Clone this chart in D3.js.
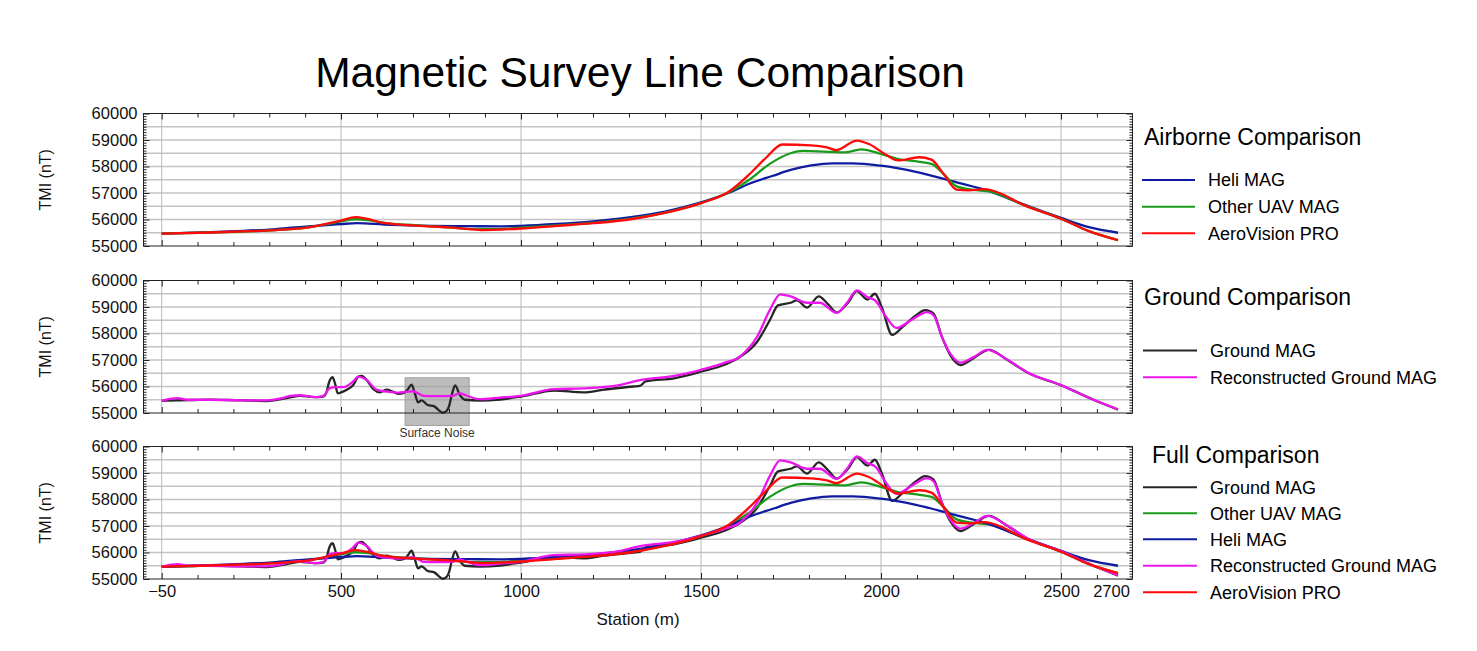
<!DOCTYPE html>
<html><head><meta charset="utf-8">
<script src="https://cdn.jsdelivr.net/npm/d3@7"></script>
<style>body{margin:0;background:#fff;} svg{display:block;}</style>
</head><body>
<svg id="chart" width="1477" height="651"></svg>
<script>
// ---------------- DATA ----------------
const heliStation = [-50,100,200,300,400,500,545,620,750,850,942,1000,1100,1200,1300,1400,1500,1576,1634,1700,1749,1806,1864,1922,2000,2094,2210,2302,2394,2500,2598,2700];
const heliTMI = [55470,55520,55570,55640,55740,55830,55860,55810,55760,55750,55740,55760,55830,55930,56080,56300,56650,57000,57350,57650,57870,58040,58120,58120,58030,57810,57400,57060,56580,56060,55710,55500];

const uavStation = [-50,100,200,300,400,460,500,540,575,620,710,800,870,942,1000,1100,1200,1300,1400,1500,1576,1634,1691,1749,1783,1864,1899,1945,2000,2048,2094,2140,2175,2210,2256,2302,2394,2500,2598,2700];
const uavTMI = [55470,55510,55540,55600,55700,55830,55930,56010,55980,55870,55780,55700,55640,55640,55690,55780,55870,56020,56260,56620,57020,57500,58100,58500,58590,58550,58530,58650,58480,58280,58200,58100,57700,57250,57120,57060,56560,56030,55560,55220];

const aeroStation = [-50,100,200,300,400,460,500,540,571,618,710,800,849,895,942,1000,1100,1200,1300,1400,1500,1576,1634,1680,1726,1806,1850,1876,1933,1968,2014,2048,2106,2140,2175,2210,2244,2290,2325,2394,2500,2598,2700];
const aeroTMI = [55470,55510,55550,55600,55700,55850,55960,56090,56030,55870,55770,55700,55650,55600,55620,55660,55760,55860,56000,56250,56620,57040,57700,58320,58830,58800,58720,58620,58980,58840,58440,58230,58350,58260,57700,57130,57100,57150,57020,56560,56030,55560,55220];

const groundStation = [-50,0,50,100,150,200,272,320,344,374,420,445,456,463,474,482,490,500,516,534,548,557,571,590,608,627,645,660,675,686,696,705,714,724,741,759,772,782,792,800,808,817,830,844,886,942,1000,1092,1173,1230,1311,1330,1346,1425,1500,1563,1610,1656,1691,1714,1749,1766,1795,1827,1852,1877,1910,1933,1962,1983,2002,2031,2060,2094,2123,2146,2169,2192,2221,2256,2300,2348,2406,2498,2614,2700];
const groundTMI = [55460,55480,55490,55500,55490,55480,55450,55530,55590,55650,55600,55620,55800,56150,56350,56100,55740,55780,55880,56060,56370,56400,56250,55900,55780,55880,55800,55720,55760,55900,56070,55750,55400,55480,55300,55250,55100,55010,55060,55250,55700,56040,55680,55500,55470,55510,55620,55850,55780,55880,56000,56020,56190,56310,56560,56810,57130,57690,58500,59060,59160,59250,58980,59400,59120,58790,59190,59600,59280,59500,59000,57950,58250,58650,58880,58750,57880,57190,56810,57060,57380,57030,56530,56060,55500,55130];

const reconStation = [-50,-20,0,27,100,200,272,320,344,374,420,445,466,487,507,534,548,571,600,627,660,678,700,715,728,770,811,830,850,886,941,1000,1092,1173,1265,1334,1425,1500,1563,1610,1656,1691,1720,1749,1795,1830,1877,1904,1933,1962,1985,2014,2043,2083,2129,2146,2169,2192,2221,2256,2296,2348,2406,2498,2614,2700];
const reconTMI = [55460,55540,55560,55500,55500,55480,55480,55560,55650,55670,55600,55640,55940,55975,55975,56190,56375,56250,55870,55810,55770,55790,55820,55740,55650,55640,55650,55740,55650,55520,55580,55650,55900,55930,56030,56250,56400,56630,56880,57150,57880,58880,59480,59400,59160,59160,58780,59130,59630,59380,59230,58630,58210,58500,58810,58690,57880,57250,56900,57100,57380,57040,56540,56060,55500,55140];

const xTickValues = [-50,500,1000,1500,2000,2500,2700];
const xGridValues = [-50,500,1000,1500,2000,2500];
const yTickValues = [55000,56000,57000,58000,59000,60000];
const yGridValues = [55500,56000,56500,57000,57500,58000,58500,59000,59500];
const yDomain = [55000,60000];
const panelTitles = ["Airborne Comparison","Ground Comparison","Full Comparison"];
const noiseBox = {x0: 678, x1: 856, y0: 54530, y1: 56330, label: "Surface Noise"};

// ---------------- SETUP ----------------
const FONT = '"Liberation Sans", Arial, sans-serif';
const series = {
  heli:   {name:"Heli MAG", color:"#0f1ca0", xs:heliStation, ys:heliTMI},
  uav:    {name:"Other UAV MAG", color:"#1a9c1a", xs:uavStation, ys:uavTMI},
  aero:   {name:"AeroVision PRO", color:"#ff0a0a", xs:aeroStation, ys:aeroTMI},
  ground: {name:"Ground MAG", color:"#262626", xs:groundStation, ys:groundTMI},
  recon:  {name:"Reconstructed Ground MAG", color:"#ee16ee", xs:reconStation, ys:reconTMI}
};

const panels = [
  {title:panelTitles[0], keys:["heli","uav","aero"], top:113.5,
   legend:{tx:1144, ty:145, items:[180,206.7,233.3], l0:1142, l1:1195, textX:1208}},
  {title:panelTitles[1], keys:["ground","recon"], top:280.5,
   legend:{tx:1144, ty:305, items:[350.5,377.3], l0:1143, l1:1197, textX:1210}},
  {title:panelTitles[2], keys:["ground","uav","heli","recon","aero"], top:446.5,
   legend:{tx:1152, ty:463, items:[487.3,513.3,539.3,565.7,592.3], l0:1143, l1:1197, textX:1210}}
];

const left = 143.5, right = 1132.5, panelH = 132.5;
const svg = d3.select("#chart");

const x = d3.scaleLinear().domain([-50, 500, 2500, 2700]).range([161.7, 341, 1061, 1118]);
const xMinor = [...d3.range(60, 500, 110), ...d3.range(600, 2500, 100).filter(v => v % 500 !== 0), 2626];

svg.append("text").attr("x", 640).attr("y", 87).attr("text-anchor","middle")
  .attr("font-family", FONT).attr("font-size", 42.5).attr("fill","#000")
  .text("Magnetic Survey Line Comparison");

panels.forEach((p, pi) => {
  const top = p.top, bottom = top + panelH;
  const y = d3.scaleLinear().domain(yDomain).range([bottom, top]);
  const g = svg.append("g");

  // grid
  g.selectAll(".hg").data(yGridValues).join("line")
    .attr("x1", left).attr("x2", right).attr("y1", d => y(d)).attr("y2", d => y(d))
    .attr("stroke", "#c4c4c4").attr("stroke-width", 1.6);
  g.selectAll(".vg").data(xGridValues).join("line")
    .attr("x1", d => x(d)).attr("x2", d => x(d)).attr("y1", top).attr("y2", bottom)
    .attr("stroke", "#b8b8b8").attr("stroke-width", 1);

  // noise box (ground panel)
  if (pi === 1) {
    g.append("rect").attr("x", x(noiseBox.x0)).attr("y", y(noiseBox.y1))
      .attr("width", x(noiseBox.x1) - x(noiseBox.x0)).attr("height", y(noiseBox.y0) - y(noiseBox.y1))
      .attr("fill", "#9a9a9a").attr("fill-opacity", 0.65).attr("stroke", "#a0a0a0").attr("stroke-width", 1);
    g.append("text").attr("x", (x(noiseBox.x0) + x(noiseBox.x1)) / 2).attr("y", y(noiseBox.y0) + 12)
      .attr("text-anchor","middle").attr("font-family", FONT).attr("font-size", 12).attr("fill","#333")
      .text(noiseBox.label);
  }

  // lines
  const line = d3.line().x(d => x(d[0])).y(d => y(d[1])).curve(d3.curveMonotoneX);
  p.keys.forEach(k => {
    const s = series[k];
    g.append("path").datum(s.xs.map((v, i) => [v, s.ys[i]]))
      .attr("d", line).attr("fill","none").attr("stroke", s.color)
      .attr("stroke-width", 2.3).attr("stroke-linejoin","round");
  });

  // frame
  g.append("rect").attr("x", left).attr("y", top).attr("width", right - left).attr("height", panelH)
    .attr("fill","none").attr("stroke","#222").attr("stroke-width",1);

  const styleAxis = sel => {
    sel.attr("font-family", FONT).attr("font-size", 16.5).attr("color", "#222");
    sel.select(".domain").remove();
    sel.selectAll("text").attr("fill", "#111");
  };

  // y axes
  g.append("g").attr("transform", `translate(${left},0)`)
    .call(d3.axisLeft(y).tickValues(yTickValues).tickSize(-6).tickPadding(6).tickFormat(d3.format("d")))
    .call(styleAxis);
  g.append("g").attr("transform", `translate(${left},0)`)
    .call(d3.axisLeft(y).tickValues(d3.range(55000, 60001, 100).filter(v => v % 1000 !== 0)).tickSize(-3).tickFormat(""))
    .call(styleAxis);
  g.append("g").attr("transform", `translate(${right},0)`)
    .call(d3.axisRight(y).tickValues(yTickValues).tickSize(-6).tickFormat(""))
    .call(styleAxis);
  g.append("g").attr("transform", `translate(${right},0)`)
    .call(d3.axisRight(y).tickValues(d3.range(55000, 60001, 100).filter(v => v % 1000 !== 0)).tickSize(-3).tickFormat(""))
    .call(styleAxis);

  // x axes (top & bottom, inside ticks)
  g.append("g").attr("transform", `translate(0,${top})`)
    .call(d3.axisTop(x).tickValues(xGridValues).tickSize(-6).tickFormat(""))
    .call(styleAxis);
  g.append("g").attr("transform", `translate(0,${top})`)
    .call(d3.axisTop(x).tickValues(xMinor).tickSize(-4).tickFormat(""))
    .call(styleAxis);
  const isLast = pi === panels.length - 1;
  g.append("g").attr("transform", `translate(0,${bottom})`)
    .call(d3.axisBottom(x).tickValues(isLast ? xTickValues : xGridValues).tickSize(-6).tickPadding(6)
      .tickFormat(isLast ? d3.format("d") : ""))
    .call(styleAxis)
    .call(a => a.selectAll(".tick").filter(d => d === 2700).select("line").remove())
    .call(a => a.selectAll("text").attr("dx", d => d === 2700 ? -7 : 0));
  g.append("g").attr("transform", `translate(0,${bottom})`)
    .call(d3.axisBottom(x).tickValues(xMinor).tickSize(-4).tickFormat(""))
    .call(styleAxis);

  // y label
  svg.append("text").attr("transform", `translate(51,${(top + bottom) / 2}) rotate(-90)`)
    .attr("text-anchor","middle").attr("font-family", FONT).attr("font-size", 16).attr("fill","#111")
    .text("TMI (nT)");

  // legend
  const L = p.legend;
  svg.append("text").attr("x", L.tx).attr("y", L.ty).attr("font-family", FONT).attr("font-size", 23)
    .attr("fill","#000").text(p.title);
  p.keys.forEach((k, i) => {
    const s = series[k];
    svg.append("line").attr("x1", L.l0).attr("x2", L.l1).attr("y1", L.items[i]).attr("y2", L.items[i])
      .attr("stroke", s.color).attr("stroke-width", 2);
    svg.append("text").attr("x", L.textX).attr("y", L.items[i]).attr("dy", "0.35em")
      .attr("font-family", FONT).attr("font-size", 18).attr("fill","#000").text(s.name);
  });
});

svg.append("text").attr("x", 638).attr("y", 625).attr("text-anchor","middle")
  .attr("font-family", FONT).attr("font-size", 17).attr("fill","#111").text("Station (m)");
</script>
</body></html>
